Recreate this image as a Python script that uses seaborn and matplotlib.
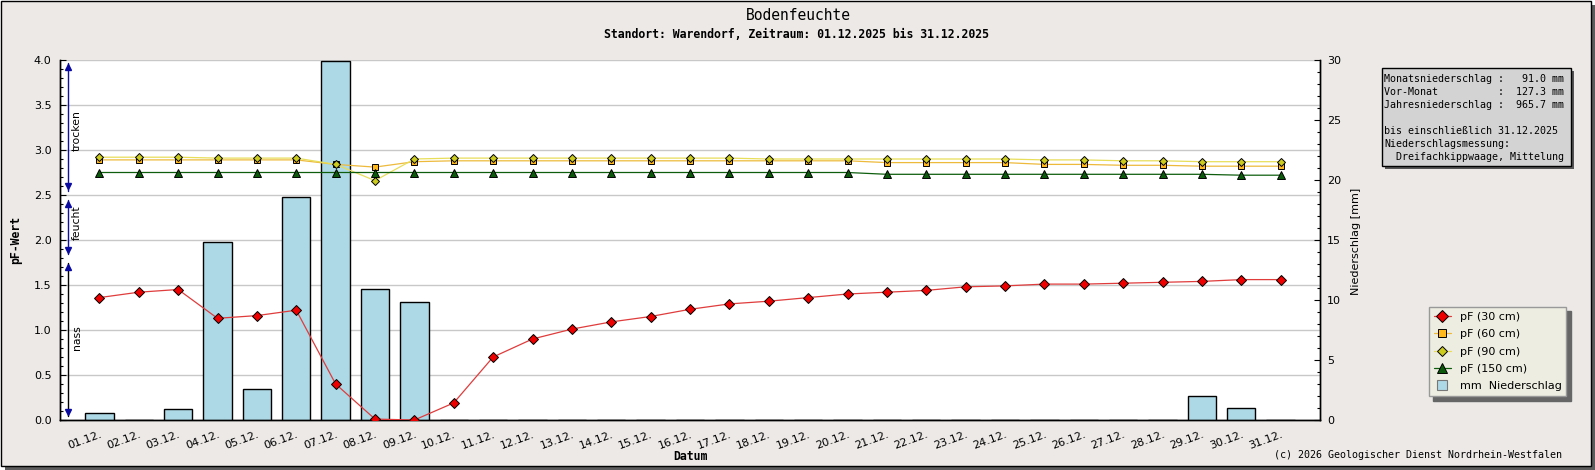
import numpy as np
import pandas as pd
import matplotlib
matplotlib.use("Agg")
import matplotlib.pyplot as plt
import matplotlib.transforms as mtrans
import seaborn as sns
from matplotlib.lines import Line2D
from matplotlib.patches import Rectangle
from matplotlib.ticker import MultipleLocator, FormatStrFormatter

# data
days = ["%02d.12." % d for d in range(1, 32)]
precip = [0.6, 0.0, 0.9, 14.8, 2.6, 18.6, 29.9, 10.9, 9.8, 0.0,
          0.0, 0.0, 0.0, 0.0, 0.0, 0.0, 0.0, 0.0, 0.0, 0.0,
          0.0, 0.0, 0.0, 0.0, 0.0, 0.0, 0.0, 0.0, 2.0, 1.0, 0.0]
pf30 = [1.36, 1.42, 1.45, 1.13, 1.16, 1.22, 0.40, 0.01, 0.00, 0.19,
        0.70, 0.90, 1.01, 1.09, 1.15, 1.23, 1.29, 1.32, 1.36, 1.40,
        1.42, 1.44, 1.48, 1.49, 1.51, 1.51, 1.52, 1.53, 1.54, 1.56, 1.56]
pf60 = [2.89, 2.89, 2.89, 2.89, 2.89, 2.89, 2.84, 2.81, 2.87, 2.88,
        2.88, 2.88, 2.88, 2.88, 2.88, 2.88, 2.88, 2.88, 2.88, 2.88,
        2.86, 2.86, 2.86, 2.86, 2.84, 2.84, 2.83, 2.83, 2.82, 2.82, 2.82]
pf90 = [2.92, 2.92, 2.92, 2.91, 2.91, 2.91, 2.84, 2.66, 2.90, 2.91,
        2.91, 2.91, 2.91, 2.91, 2.91, 2.91, 2.91, 2.90, 2.90, 2.90,
        2.90, 2.90, 2.90, 2.90, 2.89, 2.89, 2.88, 2.88, 2.87, 2.87, 2.87]
pf150 = [2.75, 2.75, 2.75, 2.75, 2.75, 2.75, 2.75, 2.75, 2.75, 2.75,
         2.75, 2.75, 2.75, 2.75, 2.75, 2.75, 2.75, 2.75, 2.75, 2.75,
         2.73, 2.73, 2.73, 2.73, 2.73, 2.73, 2.73, 2.73, 2.73, 2.72, 2.72]
series_labels = ["pF (30 cm)", "pF (60 cm)", "pF (90 cm)", "pF (150 cm)"]
bar_label = "mm  Niederschlag"
info_lines = ["Monatsniederschlag :   91.0 mm",
              "Vor-Monat          :  127.3 mm",
              "Jahresniederschlag :  965.7 mm",
              "",
              "bis einschließlich 31.12.2025",
              "Niederschlagsmessung:",
              "  Dreifachkippwaage, Mittelung"]

df = pd.DataFrame({"idx": np.arange(len(days)), "precip": precip,
                   "pf30": pf30, "pf60": pf60, "pf90": pf90, "pf150": pf150})

sns.set_theme(style="white", rc={"text.color": "black", "axes.edgecolor": "black",
                                 "xtick.color": "black", "ytick.color": "black",
                                 "axes.labelcolor": "black"})
plt.rcParams['font.family'] = ['DejaVu Sans']
mono = 'DejaVu Sans Mono'

W, H = 1595, 470
def fx(p): return p / W
def fy(p): return 1 - p / H

fig = plt.figure(figsize=(W / 100, H / 100), dpi=100)
fig.patch.set_facecolor('white')
# frame with shadow
fig.add_artist(Rectangle((fx(5), 0), 1 - fx(5), 1 - 5 / H, transform=fig.transFigure,
                         fc='#5c5c5c', ec='none', zorder=-20))
fig.add_artist(Rectangle((fx(0.5), fy(466)), fx(1590), 465.5 / H, transform=fig.transFigure,
                         fc='#ECE9E7', ec='black', lw=1, zorder=-19))

ax = fig.add_axes([fx(60), fy(420), fx(1260), 360 / H])
ax.set_facecolor('white')
ax_bar = ax.twinx()
ax_line = ax.twinx()

# bars
sns.barplot(data=df, x="idx", y="precip", native_scale=True, ax=ax_bar, color='#ADD8E6',
            saturation=1, edgecolor='black', linewidth=1, width=0.72, errorbar=None)

# pF lines
styles = [("pf30", '#E03C3C', 'D', '#EE0000', 4.6),
          ("pf60", '#EDBA3C', 's', '#FFB81C', 4.2),
          ("pf90", '#E8DE5A', 'D', '#CCCC1E', 3.8),
          ("pf150", '#0E5E0E', '^', '#0B5A0B', 5.2)]
for col, lc, mk, mfc, ms in styles:
    sns.lineplot(data=df, x="idx", y=col, ax=ax_line, color=lc, lw=0.9, marker=mk,
                 markersize=ms, markerfacecolor=mfc, markeredgecolor='black',
                 markeredgewidth=0.7, legend=False)

for a in (ax, ax_bar, ax_line):
    a.set_xlim(-1, 31)
ax.set_ylim(0, 4)
ax_line.set_ylim(0, 4)
ax_bar.set_ylim(0, 30)
ax_line.axis('off')

ax.yaxis.set_major_locator(MultipleLocator(0.5))
ax.yaxis.set_minor_locator(MultipleLocator(0.1))
ax.yaxis.set_major_formatter(FormatStrFormatter('%.1f'))
ax.yaxis.grid(True, color='#C8C8C8', lw=1)
ax.xaxis.grid(False)
ax_bar.yaxis.set_major_locator(MultipleLocator(5))
ax_bar.yaxis.set_minor_locator(MultipleLocator(1))
ax_bar.grid(False)

ax.set_xticks(range(len(days)))
ax.set_xticklabels(days, rotation=20, ha='right', rotation_mode='anchor')
ax.tick_params(axis='x', direction='in', length=4, width=0.8, pad=7, labelsize=8)
ax.tick_params(axis='y', which='major', direction='in', length=4, width=0.8, pad=6, labelsize=8)
ax.tick_params(axis='y', which='minor', direction='in', length=2.2, width=0.8, left=True)
ax_bar.tick_params(axis='y', which='major', direction='in', length=4, width=0.8, pad=5, labelsize=8)
ax_bar.tick_params(axis='y', which='minor', direction='in', length=2.2, width=0.8, right=True)
for a in (ax, ax_bar):
    a.spines['top'].set_visible(False)
    for s in ('left', 'right', 'bottom'):
        a.spines[s].set_linewidth(1)
ax.set_xlabel('')
ax.set_ylabel('')
ax_bar.set_ylabel('')

# moisture range arrows
blend = mtrans.blended_transform_factory(ax.transAxes, ax.transData)
xa = (68.3 - 60) / 1260
d = 0.045
for lo, hi, lc in [(2.55, 3.97, '#1010A0'), (1.84, 2.44, '#1010A0'), (0.04, 1.74, 'black')]:
    ax_line.plot([xa, xa], [lo, hi], transform=blend, color=lc, lw=1, clip_on=False)
    ax_line.plot([xa], [hi - d], transform=blend, marker='^', ms=5, color='#0A0AA0', clip_on=False)
    ax_line.plot([xa], [lo + d], transform=blend, marker='v', ms=5, color='#0A0AA0', clip_on=False)
for txt, yv in [("trocken", 3.22), ("feucht", 2.19), ("nass", 0.91)]:
    ax_line.text((77 - 60) / 1260, yv, txt, transform=blend, rotation=90, ha='center',
                 va='center', fontsize=7.8)

# legend
handles = [Line2D([], [], color=lc, lw=0.9, marker=mk, markersize=ms + 1.4, markerfacecolor=mfc,
                  markeredgecolor='black', markeredgewidth=0.7) for _, lc, mk, mfc, ms in styles]
handles.append(Line2D([], [], ls='none', marker='s', markersize=7.5,
                      markerfacecolor='#ADD8E6', markeredgecolor='#777777', markeredgewidth=0.8))
leg = fig.legend(handles, series_labels + [bar_label], loc='upper left',
                 bbox_to_anchor=(fx(1429), fy(307)), borderaxespad=0, fontsize=8,
                 frameon=True, fancybox=False, labelspacing=0.66, handlelength=1.5,
                 handletextpad=0.8, borderpad=0.45,
                 shadow={'ox': 3, 'oy': -3, 'color': '#666666', 'alpha': 1})
leg.get_frame().set_facecolor('#EEEDE1')
leg.get_frame().set_edgecolor('#999999')
leg.get_frame().set_alpha(1)

# info box
fig.add_artist(Rectangle((fx(1385), fy(169)), fx(189), 98 / H, transform=fig.transFigure,
                         fc='#555555', ec='none', zorder=5))
fig.add_artist(Rectangle((fx(1382), fy(166)), fx(189), 98 / H, transform=fig.transFigure,
                         fc='#D3D3D3', ec='black', lw=1, zorder=6))
for i, line in enumerate(info_lines):
    fig.text(fx(1384), fy(79.3 + 13 * i), line, family=mono, fontsize=7.2,
             ha='left', va='center', zorder=7)

# titles and labels
fig.text(fx(798), fy(15), "Bodenfeuchte", family=mono, fontsize=10.5, ha='center', va='center')
fig.text(fx(797), fy(34), "Standort: Warendorf, Zeitraum: 01.12.2025 bis 31.12.2025",
         family=mono, fontweight='bold', fontsize=8.3, ha='center', va='center')
fig.text(fx(690), fy(457), "Datum", family=mono, fontweight='bold', fontsize=8.3,
         ha='center', va='center')
fig.text(fx(16), fy(240), "pF-Wert", family=mono, fontweight='bold', fontsize=8.3,
         rotation=90, ha='center', va='center')
fig.text(fx(1356), fy(241), "Niederschlag [mm]", fontsize=8, rotation=90,
         ha='center', va='center')
fig.text(fx(1562), fy(455), "(c) 2026 Geologischer Dienst Nordrhein-Westfalen",
         family=mono, fontsize=7.2, ha='right', va='center')

fig.savefig('out.png', dpi=100, facecolor=fig.get_facecolor())
